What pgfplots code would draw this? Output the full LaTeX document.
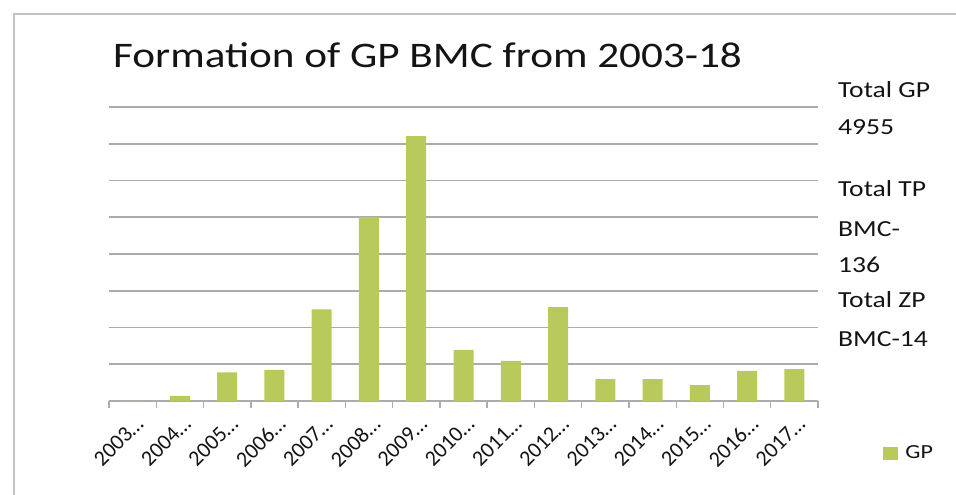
\documentclass[border=0pt]{standalone}
\usepackage{pgfplots}
\pgfplotsset{compat=1.18}
\usepackage{fontspec}
\setmainfont{Carlito}
\definecolor{barc}{RGB}{185,201,92}
\definecolor{gridc}{RGB}{172,172,172}
\definecolor{framec}{RGB}{195,195,195}
\definecolor{txt}{RGB}{20,20,20}
\begin{document}
\begin{tikzpicture}
\useasboundingbox (0pt,0pt) rectangle (956pt,495pt);
\draw[framec, line width=1.8pt] (14pt,-5pt) -- (14pt,481pt) -- (962pt,481pt);
\node[anchor=base west, inner sep=0, text=txt] at (113pt,427pt) {\fontsize{36}{40}\selectfont\scalebox{1.2}[1]{Formation of GP BMC from 2003-18}};
\begin{scope}[every node/.style={anchor=base west, inner sep=0, text=txt, font=\fontsize{23}{26}\selectfont}]
\node at (838pt,397pt) {\scalebox{1.2}[1]{Total GP}};
\node at (838pt,360pt) {\scalebox{1.2}[1]{4955}};
\node at (838pt,298pt) {\scalebox{1.2}[1]{Total TP}};
\node at (838pt,258pt) {\scalebox{1.2}[1]{BMC-}};
\node at (838pt,222pt) {\scalebox{1.2}[1]{136}};
\node at (838pt,187pt) {\scalebox{1.2}[1]{Total ZP}};
\node at (838pt,148pt) {\scalebox{1.2}[1]{BMC-14}};
\end{scope}
\begin{axis}[
  at={(109pt,94pt)}, anchor=south west, scale only axis,
  width=709pt, height=294pt,
  xmin=-0.5, xmax=14.5, ymin=0, ymax=1600,
  ytick={0,200,...,1600}, yticklabels={}, ytick style={draw=none},
  ymajorgrids, grid style={gridc, line width=1.6pt},
  axis line style={draw=none},
  xtick={0,...,14},
  xticklabels={2003…,2004…,2005…,2006…,2007…,2008…,2009…,2010…,2011…,2012…,2013…,2014…,2015…,2016…,2017…},
  major tick length=0pt,
  minor xtick={-0.5,0.5,...,14.5},
  minor tick length=7pt,
  xtick align=outside, xtick pos=bottom,
  minor x tick style={gridc, line width=1.4pt},
  xticklabel style={xshift=2pt, yshift=-14pt, rotate=45, anchor=north east, inner sep=0pt, text=txt, font=\fontsize{22}{24}\selectfont},
  legend style={at={(1.092,-0.177)}, anchor=west, draw=none, fill=none, inner sep=0pt, font=\fontsize{20}{22}\selectfont, text=txt},
  clip=false,
]
\addplot[ybar, bar width=20pt, fill=barc, draw=none,
  legend image code/.code={\fill[barc] (0pt,-6.5pt) rectangle (15pt,6.5pt);}]
  coordinates {(0,0) (1,28) (2,156) (3,170) (4,498) (5,1000) (6,1442) (7,278) (8,219) (9,511) (10,119) (11,119) (12,86) (13,164) (14,174)};
\addlegendentry{\hspace{5pt}\scalebox{1.2}[1]{GP}}
\end{axis}
\end{tikzpicture}
\end{document}
